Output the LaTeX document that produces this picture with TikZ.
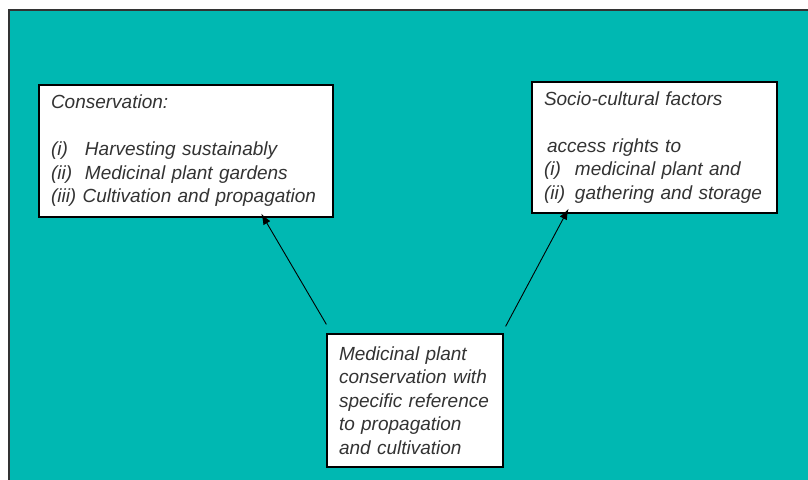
\documentclass[tikz,border=0pt]{standalone}
\usepackage{fontspec}
\setmainfont{Liberation Sans}
\usetikzlibrary{positioning, arrows.meta, calc}
\definecolor{teal}{HTML}{00B8B2}

% fixed-width label for the numbered items
\newcommand{\itemlbl}[2]{\makebox[#1][l]{#2}}

\begin{document}
\begin{tikzpicture}[
  x=1pt, y=-1pt,
  >={Latex[length=11pt, width=8pt]},
  every node/.style={font=\fontsize{19}{23.5}\selectfont\itshape, text=black!80},
  box/.style = {draw=black, line width=1.2pt, fill=white, align=left, inner xsep=12pt, inner ysep=0pt},
  arr/.style = {->, line width=0.9pt, black},
]
  \useasboundingbox (0,0) rectangle (808,479);
  \fill[white] (0,0) rectangle (808,479);
  % teal panel, running off the right and bottom edges
  \begin{scope}
    \clip (0,0) rectangle (808,479);
    \draw[fill=teal, draw=black!80, line width=2pt] (9,10) rectangle (840,510);
  \end{scope}

  \node[box, text width=270pt, minimum height=132pt] (cons) at (186,151)
    {Conservation:\\[23.5pt]
     \itemlbl{34pt}{(i)}Harvesting sustainably\\
     \itemlbl{34pt}{(ii)}Medicinal plant gardens\\
     (iii) Cultivation and propagation};
  \node[box, text width=221pt, minimum height=131pt] (socio) at (654.5,147.5)
    {Socio-cultural factors\\[23.5pt]
     \hspace*{3pt}access rights to\\
     \itemlbl{31pt}{(i)}medicinal plant and\\
     \itemlbl{31pt}{(ii)}gathering and storage};
  \node[box, text width=152pt, minimum height=133pt] (med) at (415,400.5)
    {Medicinal plant\\conservation with\\specific reference\\to propagation\\and cultivation};

  % links from the central topic up to both boxes
  \coordinate (consin)  at ($(cons.south west)!0.755!(cons.south east)+(0,-4)$);
  \coordinate (socioin) at ($(socio.south west)!0.151!(socio.south east)+(0,-5)$);
  \draw[arr] ([yshift=9pt]med.north west) -- (consin);
  \draw[arr] ([xshift=2pt, yshift=7pt]med.north east) -- (socioin);
\end{tikzpicture}
\end{document}
